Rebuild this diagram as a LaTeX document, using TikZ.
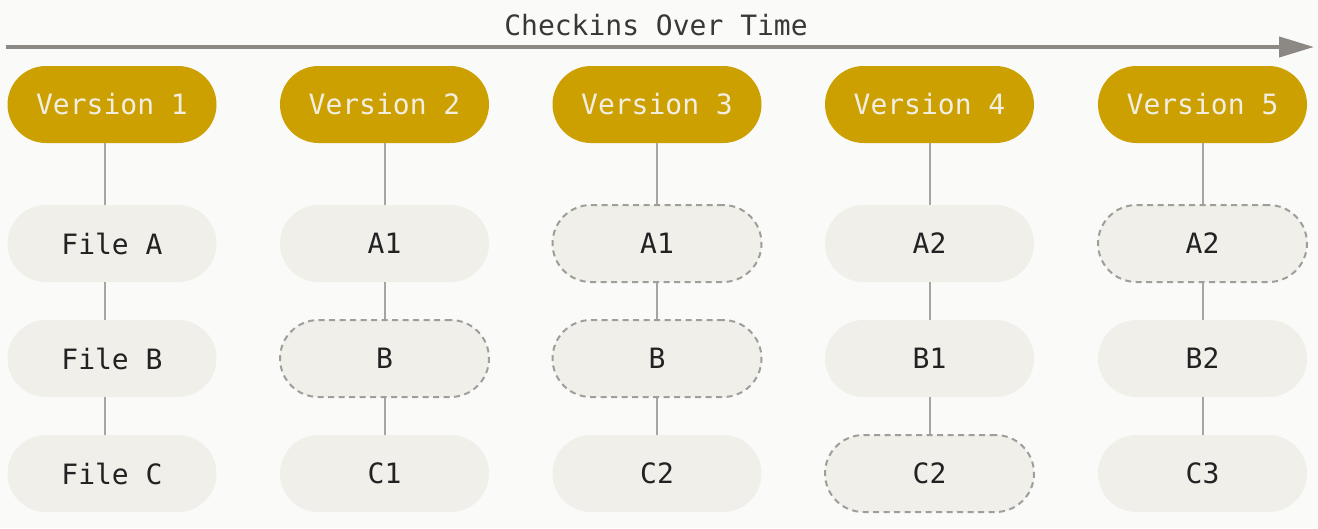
\documentclass[tikz,border=0pt]{standalone}
\usepackage{fontspec}
\setmonofont{DejaVu Sans Mono}
\usetikzlibrary{arrows.meta}
\definecolor{bgc}{HTML}{FAFAF8}
\definecolor{verfill}{HTML}{CCA000}
\definecolor{vertext}{HTML}{F2EEE2}
\definecolor{filefill}{HTML}{F0EFEA}
\definecolor{filetext}{HTML}{222222}
\definecolor{titletext}{HTML}{3A3836}
\definecolor{linec}{HTML}{A8A4A0}
\definecolor{arrowc}{HTML}{8C8884}
\definecolor{dashc}{HTML}{A09E9A}
\tikzset{
  pill/.style={rectangle, rounded corners=38.5pt, minimum width=209pt, minimum height=77pt,
    inner sep=0pt, font=\ttfamily\fontsize{28}{31}\selectfont},
  verbox/.style={pill, fill=verfill, text=vertext},
  filebox/.style={pill, fill=filefill, text=filetext},
  samebox/.style={filebox, draw=dashc, line width=2pt, dash pattern=on 6pt off 4.5pt},
  conn/.style={draw=linec, line width=2pt},
}
\begin{document}
\begin{tikzpicture}[x=1pt,y=1pt]
\fill[bgc] (0,0) rectangle (1318,-528);
\useasboundingbox (0,0) rectangle (1318,-528);
\coordinate (as) at (6,-47);
\coordinate (ae) at (1314,-47);
\draw[draw=arrowc, line width=4pt, -{Triangle[length=35pt,width=20pt]}] (as) -- (ae);
\node[font=\ttfamily\fontsize{28}{31}\selectfont, text=titletext] (title) at (656,-25) {Checkins Over Time};
% column 1
\node[verbox]  (v1) at (112,-104.5) {Version 1};
\node[filebox] (a1) at (112,-243.5) {File A};
\node[filebox] (b1) at (112,-358.5) {File B};
\node[filebox] (c1) at (112,-473.5) {File C};
% column 2
\node[verbox]  (v2) at (384.5,-104.5) {Version 2};
\node[filebox] (a2) at (384.5,-243.5) {A1};
\node[samebox] (b2) at (384.5,-358.5) {B};
\node[filebox] (c2) at (384.5,-473.5) {C1};
% column 3
\node[verbox]  (v3) at (657,-104.5) {Version 3};
\node[samebox] (a3) at (657,-243.5) {A1};
\node[samebox] (b3) at (657,-358.5) {B};
\node[filebox] (c3) at (657,-473.5) {C2};
% column 4
\node[verbox]  (v4) at (929.5,-104.5) {Version 4};
\node[filebox] (a4) at (929.5,-243.5) {A2};
\node[filebox] (b4) at (929.5,-358.5) {B1};
\node[samebox] (c4) at (929.5,-473.5) {C2};
% column 5
\node[verbox]  (v5) at (1202.5,-104.5) {Version 5};
\node[samebox] (a5) at (1202.5,-243.5) {A2};
\node[filebox] (b5) at (1202.5,-358.5) {B2};
\node[filebox] (c5) at (1202.5,-473.5) {C3};
% connectors (column 1 runs slightly left of centre, as in the reference)
\draw[conn] ([xshift=-7pt]v1.south) -- ([xshift=-7pt]a1.north);
\draw[conn] ([xshift=-7pt]a1.south) -- ([xshift=-7pt]b1.north);
\draw[conn] ([xshift=-7pt]b1.south) -- ([xshift=-7pt]c1.north);
\foreach \i in {2,...,5}{
  \draw[conn] (v\i.south) -- (a\i.north);
  \draw[conn] (a\i.south) -- (b\i.north);
  \draw[conn] (b\i.south) -- (c\i.north);
}
\end{tikzpicture}
\end{document}
